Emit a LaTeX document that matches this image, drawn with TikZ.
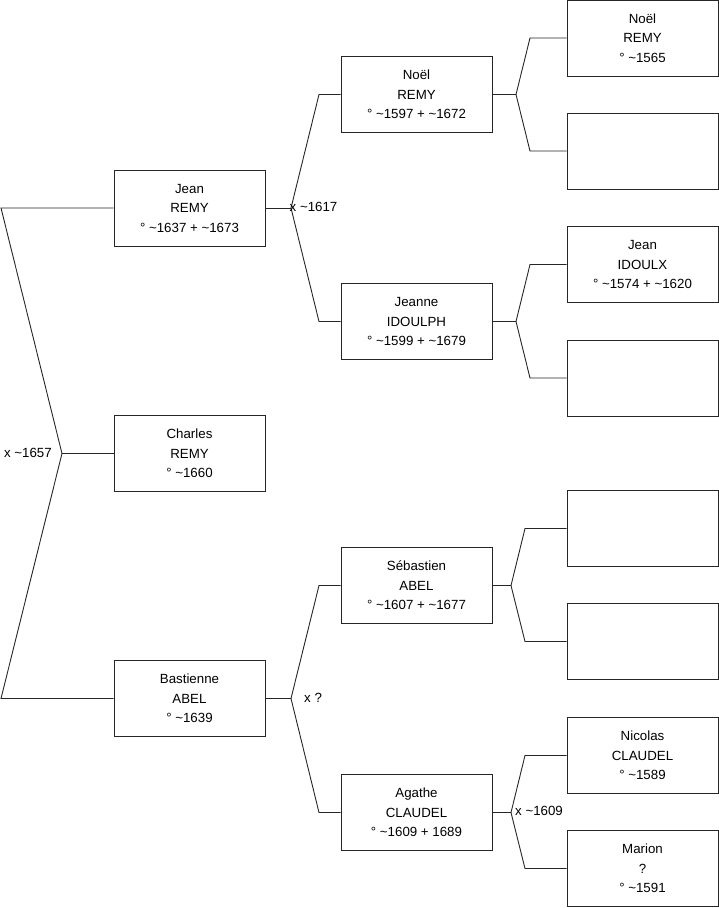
\documentclass[tikz,border=0pt]{standalone}
\usepackage{fontspec}
\setmainfont{Liberation Sans}
\begin{document}
\begin{tikzpicture}[x=1pt,y=-1pt,
  person/.style={draw=black!85, line width=0.9pt, fill=white, minimum width=151pt, minimum height=76pt, inner sep=0pt, align=center, font=\fontsize{13.3}{19.5}\selectfont},
  link/.style={draw=black!85, line width=0.9pt},
  marr/.style={font=\fontsize{13.3}{15}\selectfont, inner sep=0pt}]
\useasboundingbox (0,0) rectangle (719,908);
% generation 1
\node[person] (jean) at (189.5,208) {Jean\\REMY\\° \textasciitilde1637 + \textasciitilde1673};
\node[person] (charles) at (189.5,453.5) {Charles\\REMY\\° \textasciitilde1660};
\node[person] (bast) at (189.5,698.5) {Bastienne\\ABEL\\° \textasciitilde1639};
% generation 2
\node[person] (noel) at (416.5,94.5) {Noël\\REMY\\° \textasciitilde1597 + \textasciitilde1672};
\node[person] (jeanne) at (416.5,321.5) {Jeanne\\IDOULPH\\° \textasciitilde1599 + \textasciitilde1679};
\node[person] (seb) at (416.5,585.5) {Sébastien\\ABEL\\° \textasciitilde1607 + \textasciitilde1677};
\node[person] (agathe) at (416.5,812.5) {Agathe\\CLAUDEL\\° \textasciitilde1609 + 1689};
% generation 3
\node[person] (noelp) at (642.5,38) {Noël\\REMY\\° \textasciitilde1565};
\node[person] (e1) at (642.5,151) {};
\node[person] (jeanx) at (642.5,264.5) {Jean\\IDOULX\\° \textasciitilde1574 + \textasciitilde1620};
\node[person] (e2) at (642.5,378) {};
\node[person] (e3) at (642.5,528.5) {};
\node[person] (e4) at (642.5,641.5) {};
\node[person] (nicolas) at (642.5,755.5) {Nicolas\\CLAUDEL\\° \textasciitilde1589};
\node[person] (marion) at (642.5,868.5) {Marion\\?\\° \textasciitilde1591};
% junction coordinates
\coordinate (rt) at (1,208);
\coordinate (rj) at (62,453.5);
\coordinate (rb) at (1,698.5);
\coordinate (jj) at (291,208);
\coordinate (ju) at (319,94.5);
\coordinate (jd) at (319,321.5);
\coordinate (bj) at (291,698.5);
\coordinate (bu) at (319,585.5);
\coordinate (bd) at (319,812.5);
\coordinate (nj) at (516,94.5);
\coordinate (nu) at (530,38);
\coordinate (nd) at (530,151);
\coordinate (ej) at (516,321.5);
\coordinate (eu) at (530,264.5);
\coordinate (ed) at (530,378);
\coordinate (sj) at (511,585.5);
\coordinate (su) at (525,528.5);
\coordinate (sd) at (525,641.5);
\coordinate (aj) at (511,812.5);
\coordinate (au) at (525,755.5);
\coordinate (ad) at (525,868.5);
% connectors
\draw[link] (jean.west) -- (rt) -- (rj) -- (rb) -- (bast.west);
\draw[link] (rj) -- (charles.west);
\draw[link] (jean.east) -- (jj);
\draw[link] (noel.west) -- (ju) -- (jj) -- (jd) -- (jeanne.west);
\draw[link] (bast.east) -- (bj);
\draw[link] (seb.west) -- (bu) -- (bj) -- (bd) -- (agathe.west);
\draw[link] (noel.east) -- (nj);
\draw[link] (noelp.west) -- (nu) -- (nj) -- (nd) -- (e1.west);
\draw[link] (jeanne.east) -- (ej);
\draw[link] (jeanx.west) -- (eu) -- (ej) -- (ed) -- (e2.west);
\draw[link] (seb.east) -- (sj);
\draw[link] (e3.west) -- (su) -- (sj) -- (sd) -- (e4.west);
\draw[link] (agathe.east) -- (aj);
\draw[link] (nicolas.west) -- (au) -- (aj) -- (ad) -- (marion.west);
% marriage labels
\node[marr, anchor=east] (m1) at (52,452.5) {x \textasciitilde1657};
\node[marr, anchor=west] (m2) at (289.5,207) {x \textasciitilde1617};
\node[marr, anchor=west] (m3) at (304,697.5) {x ?};
\node[marr, anchor=west] (m4) at (515,810.5) {x \textasciitilde1609};
\end{tikzpicture}
\end{document}
